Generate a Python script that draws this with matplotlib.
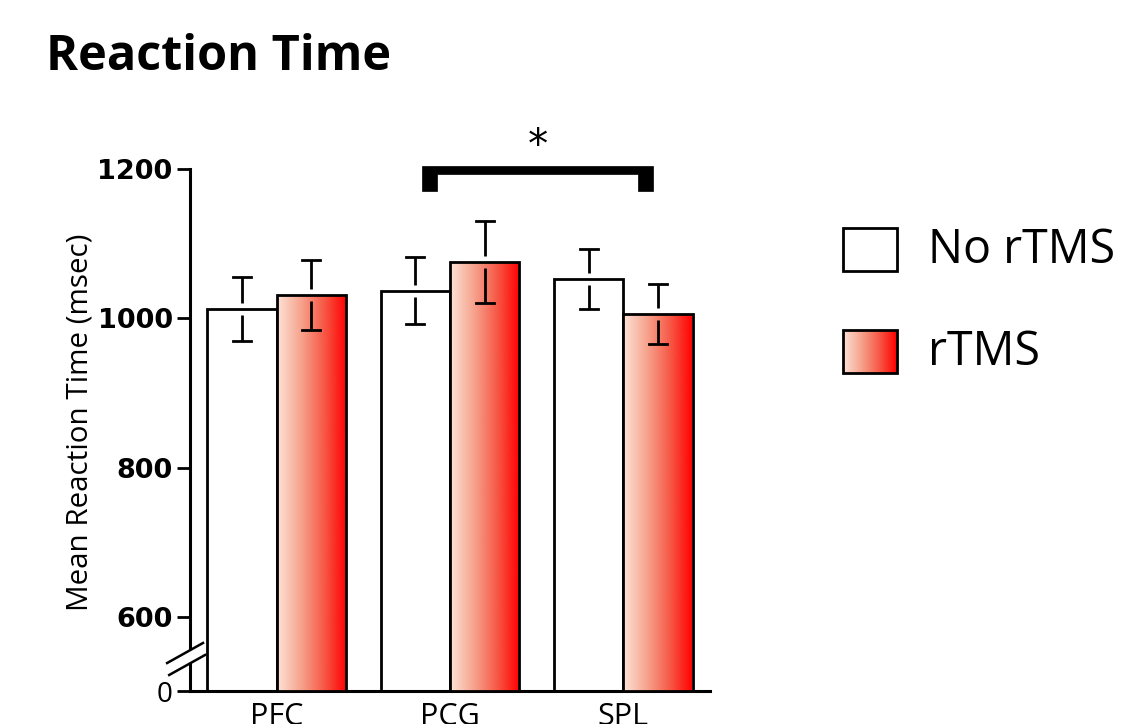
import numpy as np
import matplotlib.pyplot as plt
from matplotlib.colors import LinearSegmentedColormap
from matplotlib.patches import Rectangle, Polygon
from matplotlib.lines import Line2D

# data
regions = ["PFC", "PCG", "SPL"]
no_rtms = [1013, 1037, 1053]
no_rtms_err = [43, 45, 40]
rtms = [1031, 1076, 1006]
rtms_err = [47, 55, 40]
yticks = [0, 600, 800, 1000, 1200]
ytick_labels = ["0", "600", "800", "1000", "1200"]

# broken y axis: everything below 600 is squeezed
BREAK = 600
SQUEEZE = 0.1644


def fwd(y):
    y = np.asarray(y, dtype=float)
    return np.where(y >= BREAK, y, BREAK - (BREAK - y) * SQUEEZE)


def inv(y):
    y = np.asarray(y, dtype=float)
    return np.where(y >= BREAK, y, BREAK - (BREAK - y) / SQUEEZE)


red_grad = LinearSegmentedColormap.from_list(
    "rtms", ["#fde2d6", "#f6a48e", "#f75a48", "#ff0000"])
gradient = np.linspace(0, 1, 256).reshape(1, -1)

LW = 2.0

fig = plt.figure(figsize=(11.22, 7.24), dpi=100)
ax = fig.add_axes([190 / 1122, 33 / 724, 520 / 1122, 522 / 724])
ax.set_yscale("function", functions=(fwd, inv))

x = np.arange(len(regions))
w = 0.4

ax.bar(x - w / 2, no_rtms, w, color="white", edgecolor="black", lw=LW, zorder=2)
red_bars = ax.bar(x + w / 2, rtms, w, facecolor="none", edgecolor="black",
                  lw=LW, zorder=4)
for b in red_bars:
    x0 = b.get_x()
    im = ax.imshow(gradient, cmap=red_grad, aspect="auto", zorder=3,
                   extent=(x0, x0 + b.get_width(), 0, b.get_height()),
                   interpolation="bicubic")
    im.set_clip_path(b)

# error bars with a small gap at the bar top
gap = 8
cap = 0.052
for xs, vals, errs in [(x - w / 2, no_rtms, no_rtms_err), (x + w / 2, rtms, rtms_err)]:
    for xi, v, e in zip(xs, vals, errs):
        ax.plot([xi, xi], [v + gap, v + e], color="black", lw=LW, zorder=5,
                solid_capstyle="butt")
        ax.plot([xi - cap, xi + cap], [v + e, v + e], color="black", lw=LW, zorder=5)
        ax.plot([xi, xi], [v - gap, v - e], color="black", lw=LW, zorder=5,
                solid_capstyle="butt")
        ax.plot([xi - cap, xi + cap], [v - e, v - e], color="black", lw=LW, zorder=5)

# significance bracket PCG vs SPL
bx0, bx1, leg = 0.84, 2.17, 0.087
by_top, by_bar, by_leg = 1204, 1193, 1171
bracket = Polygon([(bx0, by_leg), (bx0, by_top), (bx1, by_top), (bx1, by_leg),
                   (bx1 - leg, by_leg), (bx1 - leg, by_bar), (bx0 + leg, by_bar),
                   (bx0 + leg, by_leg)], closed=True, facecolor="black",
                  edgecolor="black", lw=0.5, clip_on=False, zorder=5)
ax.add_patch(bracket)
ax.text(1.505, 1230, "*", ha="center", va="center", fontsize=29,
        fontfamily="DejaVu Sans")

ax.set_xlim(-0.5, 2.5)
ax.set_ylim(0, 1200)

for s in ["top", "right"]:
    ax.spines[s].set_visible(False)
ax.spines["left"].set_linewidth(2.2)
ax.spines["bottom"].set_linewidth(2.2)

ax.set_yticks(yticks)
ax.set_yticklabels(ytick_labels)
ax.yaxis.set_minor_locator(plt.NullLocator())
ax.tick_params(axis="y", direction="out", length=9.5, width=2, pad=3)
for lbl in ax.get_yticklabels():
    if lbl.get_text() == "0":
        lbl.set_fontfamily("Open Sans")
        lbl.set_fontsize(20)
    else:
        lbl.set_fontfamily("DejaVu Sans")
        lbl.set_fontweight("bold")
        lbl.set_fontsize(19.5)

ax.set_xticks(x)
ax.set_xticklabels(regions, fontfamily="Open Sans", fontsize=22)
ax.tick_params(axis="x", length=0, pad=8)

ax.set_ylabel("Mean Reaction Time (msec)", fontfamily="Open Sans", fontsize=21.3)
ax.yaxis.set_label_coords(-0.184, 0.515)

# axis break marks
brk = dict(transform=ax.transAxes, clip_on=False, zorder=6)
ax.add_patch(Polygon([(-0.044, 0.0536), (0.025, 0.092), (0.029, 0.069),
                      (-0.040, 0.0307)], closed=True, facecolor="white",
                     edgecolor="none", **brk))
ax.add_line(Line2D([-0.044, 0.025], [0.0536, 0.092], color="black", lw=1.8, **brk))
ax.add_line(Line2D([-0.040, 0.029], [0.0307, 0.069], color="black", lw=1.8, **brk))

fig.text(46 / 1122, 1 - 58 / 724, "Reaction Time", fontsize=35, fontweight="bold",
         fontfamily="Open Sans", va="center", ha="left")

# legend drawn by hand so the gradient swatch can be shown
lax = fig.add_axes([0, 0, 1, 1], zorder=10)
lax.set_xlim(0, 1122)
lax.set_ylim(724, 0)
lax.axis("off")
lax.add_patch(Rectangle((843, 228), 54, 43, facecolor="white", edgecolor="black",
                        lw=LW))
sw = Rectangle((843, 330), 54, 43, facecolor="none", edgecolor="black", lw=LW,
               zorder=3)
lax.add_patch(sw)
lim = lax.imshow(gradient, cmap=red_grad, aspect="auto", extent=(843, 897, 373, 330),
                 interpolation="bicubic", zorder=2)
lim.set_clip_path(sw)
lax.set_xlim(0, 1122)
lax.set_ylim(724, 0)
lax.text(928, 250, "No rTMS", fontsize=33.5, fontfamily="Open Sans", va="center")
lax.text(928, 352, "rTMS", fontsize=33.5, fontfamily="Open Sans", va="center")

fig.savefig("out.png", dpi=100)
